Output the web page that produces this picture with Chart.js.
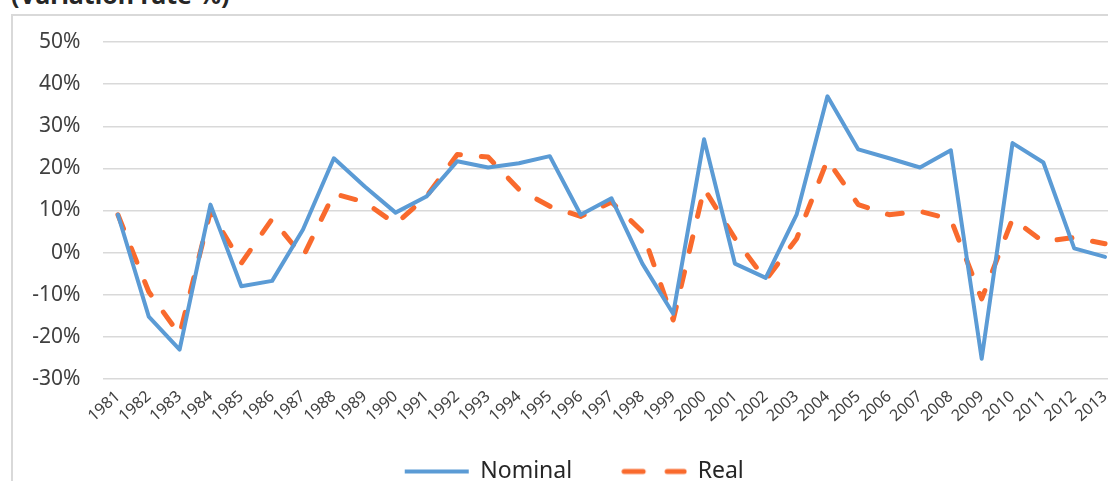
<!DOCTYPE html>
<html>
<head>
<meta charset="utf-8">
<script src="https://cdn.jsdelivr.net/npm/chart.js@4/dist/chart.umd.min.js"></script>
<style>
  html, body { margin: 0; padding: 0; background: #fff; overflow: hidden; width: 1108px; height: 481px; }
  #frame { position: absolute; left: 11px; top: 14px; width: 1300px; height: 700px; border: 2px solid #d9d9d9; box-sizing: border-box; }
  #title { position: absolute; left: 11px; top: -18px; font: bold 25px "Noto Sans", sans-serif; line-height: 25px; color: #262626; white-space: nowrap; }
  #chart { position: absolute; left: 0; top: 0; }
</style>
</head>
<body>
<div id="frame"></div>
<div id="title">(Variation rate %)</div>
<canvas id="chart" width="1206" height="520"></canvas>
<script>
// Annual variation rate (%), 1981–2013
const years = ['1981','1982','1983','1984','1985','1986','1987','1988','1989','1990','1991',
  '1992','1993','1994','1995','1996','1997','1998','1999','2000','2001','2002','2003','2004',
  '2005','2006','2007','2008','2009','2010','2011','2012','2013'];

const nominal = [9, -15.2, -23, 11.4, -8, -6.7, 5.5, 22.4, 15.7, 9.5, 13.3, 21.7, 20.2, 21.2,
  22.9, 9, 12.9, -2.6, -14.5, 26.9, -2.6, -6, 9, 37.1, 24.5, 22.4, 20.2, 24.3, -25.2, 26,
  21.4, 1, -1];

const real = [9, -9.3, -19.5, 9.8, -2.5, 8, -1, 14, 12, 6.8, 13.3, 23.3, 22.7, 15, 11, 8.6,
  12, 5, -16, 15.2, 3.4, -6.5, 3.3, 22, 11.4, 9, 9.8, 7.9, -11, 8, 2.6, 3.6, 2.1];

const yMin = -30, yMax = 50, yStep = 10;

const FONT = '"Noto Sans", sans-serif';
const BLUE = '#5B9BD5';
const ORANGE = '#F96A2D';

// Legend swatch for the dashed series: two short rounded dashes.
function dashedSwatch(color) {
  const c = document.createElement('canvas');
  c.width = 66; c.height = 8;
  const g = c.getContext('2d');
  g.strokeStyle = color;
  g.lineWidth = 5;
  g.lineCap = 'round';
  g.beginPath();
  g.moveTo(3, 4); g.lineTo(22, 4);
  g.moveTo(46, 4); g.lineTo(63, 4);
  g.stroke();
  return c;
}

// The legend's label padding also sets the gap between its two entries;
// pull the legend row up under the year labels and nudge it right.
const legendPlace = {
  id: 'legendPlace',
  afterLayout(chart) {
    const lg = chart.legend;
    if (!lg) return;
    const up = 19, right = 14;
    lg.top -= up;
    lg.bottom -= up;
    lg.left += right;
    lg.right += right;
  }
};

new Chart(document.getElementById('chart'), {
  type: 'line',
  data: {
    labels: years,
    datasets: [
      {
        label: 'Nominal',
        data: nominal,
        borderColor: BLUE,
        backgroundColor: BLUE,
        borderWidth: 4,
        borderCapStyle: 'round',
        borderJoinStyle: 'round',
        pointRadius: 0,
        pointStyle: 'line',
        tension: 0
      },
      {
        label: 'Real',
        data: real,
        borderColor: ORANGE,
        backgroundColor: ORANGE,
        borderWidth: 5,
        borderDash: [15, 21],
        borderCapStyle: 'round',
        borderJoinStyle: 'round',
        pointRadius: 0,
        pointStyle: dashedSwatch(ORANGE),
        tension: 0
      }
    ]
  },
  plugins: [legendPlace],
  options: {
    responsive: false,
    devicePixelRatio: 1,
    animation: false,
    layout: { padding: { top: 42, left: 0, right: 85.5, bottom: 8 } },
    plugins: {
      tooltip: { enabled: false },
      legend: {
        position: 'bottom',
        labels: {
          usePointStyle: true,
          pointStyleWidth: 64,
          padding: 50,
          color: '#262626',
          font: { family: FONT, size: 23 }
        }
      }
    },
    scales: {
      x: {
        offset: true,
        grid: { display: false, drawTicks: false },
        border: { display: false },
        ticks: {
          autoSkip: false,
          minRotation: 42,
          maxRotation: 42,
          padding: 8,
          color: '#404040',
          font: { family: FONT, size: 16 }
        },
        afterFit(scale) { scale.height = 50; }
      },
      y: {
        min: yMin,
        max: yMax,
        grid: { color: '#d9d9d9', lineWidth: 1.5, drawTicks: false },
        border: { display: false },
        ticks: {
          stepSize: yStep,
          padding: 22,
          color: '#404040',
          font: { family: FONT, size: 21 },
          callback: v => v + '%'
        },
        afterFit(scale) { scale.width = 102.5; }
      }
    }
  }
});
</script>
</body>
</html>
